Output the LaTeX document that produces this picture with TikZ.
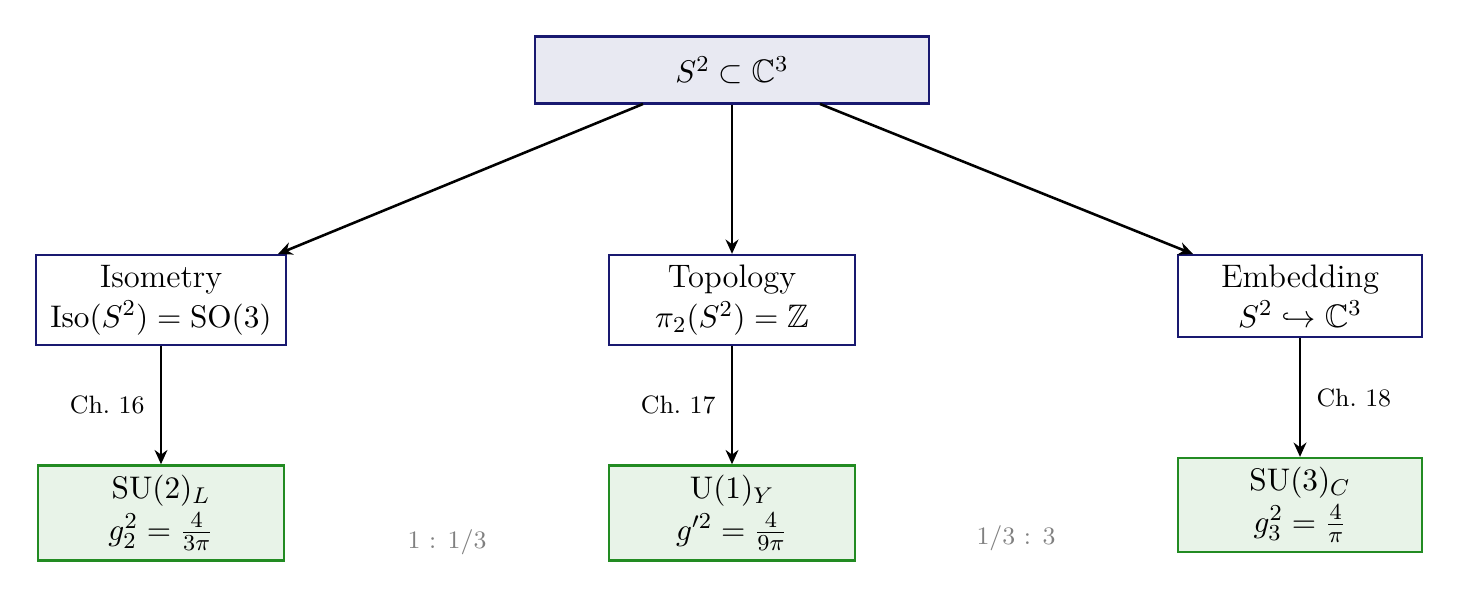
\documentclass[tikz,border=0pt]{standalone}
\usepackage{amssymb}
\usetikzlibrary{arrows.meta}
\definecolor{navy}{RGB}{25,25,112}
\definecolor{topfill}{RGB}{232,233,242}
\definecolor{grn}{RGB}{34,139,34}
\definecolor{grnfill}{RGB}{232,243,232}
\begin{document}
\begin{tikzpicture}[x=0.3503pt,y=-0.3503pt,
  box/.style={draw=navy,line width=0.85pt,fill=white,align=center,inner sep=0pt,font=\fontsize{11.4}{14}\selectfont},
  res/.style={draw=grn,line width=0.85pt,fill=grnfill,align=center,inner sep=0pt,font=\fontsize{11.4}{14.5}\selectfont},
  arr/.style={-{Stealth[length=5pt,width=4.5pt]},line width=0.9pt},
  lab/.style={font=\fontsize{8.8}{11}\selectfont},
  ratio/.style={font=\fontsize{8.8}{11}\selectfont,text=gray}]
\useasboundingbox (0,0) rectangle (1460,602);
\node[box,fill=topfill,minimum width=138pt,minimum height=23.5pt] (top) at (732,70) {$S^2\subset\mathbb{C}^3$};
\node[box,minimum width=87.6pt,minimum height=31.5pt] (iso) at (161,300) {Isometry\\$\mathrm{Iso}(S^2)=\mathrm{SO}(3)$};
\node[box,minimum width=86.2pt,minimum height=31.5pt] (topo) at (732,300) {Topology\\$\pi_2(S^2)=\mathbb{Z}$};
\node[box,minimum width=85.5pt,minimum height=28.7pt] (emb) at (1300,296) {Embedding\\$S^2\hookrightarrow\mathbb{C}^3$};
\node[res,minimum width=86.2pt,minimum height=33.3pt] (su2) at (161,513) {$\mathrm{SU}(2)_L$\\$g_2^2=\frac{4}{3\pi}$};
\node[res,minimum width=86.2pt,minimum height=33.3pt] (u1) at (732,513) {$\mathrm{U}(1)_Y$\\$g'^2=\frac{4}{9\pi}$};
\node[res,minimum width=85.5pt,minimum height=32.9pt] (su3) at (1300,505) {$\mathrm{SU}(3)_C$\\$g_3^2=\frac{4}{\pi}$};
\coordinate (tl) at (643,104);
\coordinate (tr) at (820,104);
\coordinate (il) at (278,254);
\coordinate (er) at (1193,254);
\draw[arr] (tl) -- (il);
\draw[arr] (top) -- (topo);
\draw[arr] (tr) -- (er);
\draw[arr] (iso) -- (su2) node[lab,midway,left=2pt] {Ch.\ 16};
\draw[arr] (topo) -- (u1) node[lab,midway,left=2pt] {Ch.\ 17};
\draw[arr] (emb) -- (su3) node[lab,midway,right=2pt] {Ch.\ 18};
\node[ratio] (r1) at (447,542) {1 : 1/3};
\node[ratio] (r2) at (1016,538) {1/3 : 3};
\end{tikzpicture}
\end{document}
